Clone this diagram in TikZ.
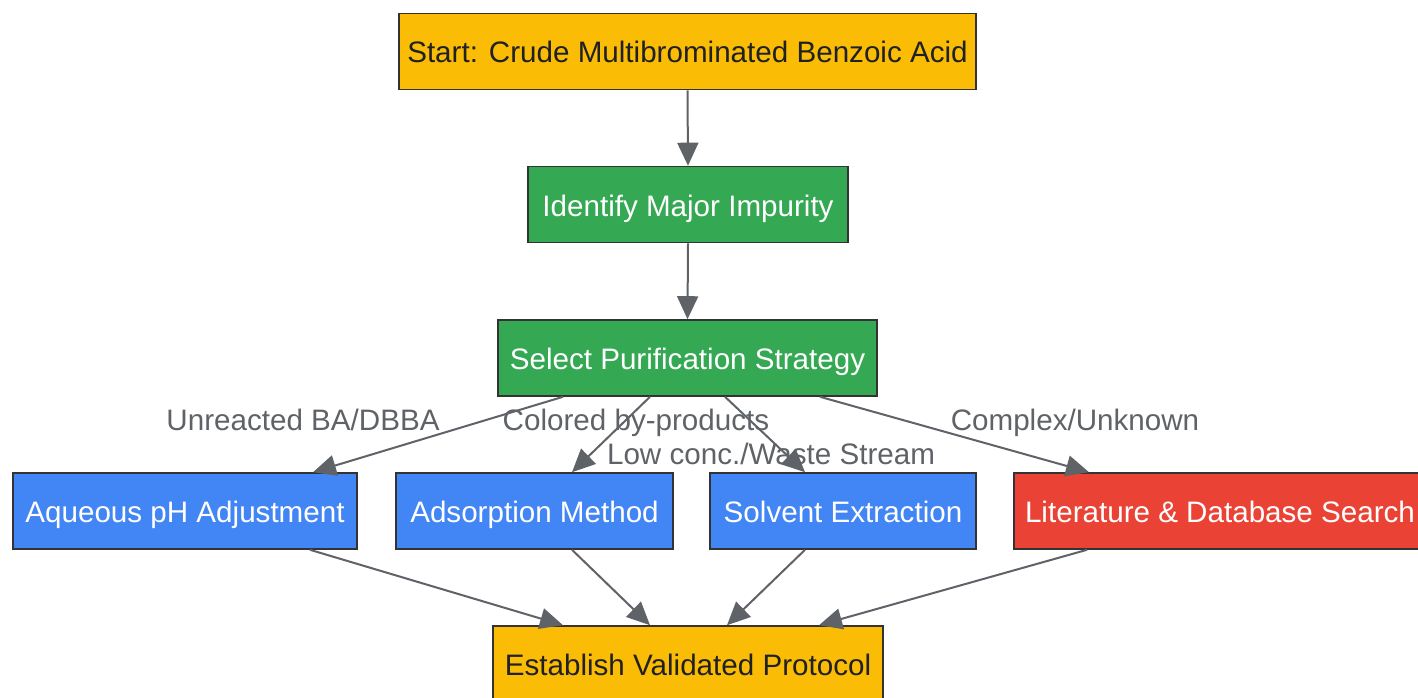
\documentclass[tikz,border=0pt]{standalone}
\usepackage{fontspec}
\setmainfont{Liberation Sans}
\usetikzlibrary{arrows.meta}
\definecolor{gyellow}{HTML}{FBBC05}
\definecolor{ggreen}{HTML}{34A853}
\definecolor{gblue}{HTML}{4285F4}
\definecolor{gred}{HTML}{EA4335}
\definecolor{darktxt}{HTML}{202124}
\definecolor{edgegray}{HTML}{5F6368}
\definecolor{bordergray}{HTML}{333333}
\begin{document}
\begin{tikzpicture}[x=1pt,y=-1pt,
  box/.style={draw=bordergray,line width=1.6pt,inner sep=0pt,minimum height=76pt,
    text height=29pt,text depth=6pt,
    font=\fontsize{29.6}{34}\selectfont},
  yel/.style={box,fill=gyellow,text=darktxt},
  grn/.style={box,fill=ggreen,text=white},
  blu/.style={box,fill=gblue,text=white},
  rd/.style={box,fill=gred,text=white},
  conn/.style={draw=edgegray,line width=2pt,-{Triangle[length=23pt,width=21pt]}},
  lbl/.style={text=edgegray,font=\fontsize{29.6}{34}\selectfont,inner sep=0pt,
    text height=28pt,text depth=6pt}]
\useasboundingbox (0,0) rectangle (1418,698);
\fill[white] (0,0) rectangle (1418,698);
\node[yel,minimum width=577pt] (start) at (687.5,51.5) {Start: Crude Multibrominated Benzoic Acid};
\node[grn,minimum width=320pt] (ident) at (688,204.5) {Identify Major Impurity};
\node[grn,minimum width=379pt] (sel) at (687.5,358) {Select Purification Strategy};
\node[blu,minimum width=344pt] (aq) at (185,511) {Aqueous pH Adjustment};
\node[blu,minimum width=277pt] (ads) at (534.5,511) {Adsorption Method};
\node[blu,minimum width=266pt] (solv) at (843,511) {Solvent Extraction};
\node[rd,minimum width=412pt] (lit) at (1220,511) {Literature \& Database Search};
\node[yel,minimum width=390pt] (fin) at (688,664) {Establish Validated Protocol};

\draw[conn] (start.south) -- (ident.north);
\draw[conn] (ident.south) -- (sel.north);
\draw[conn] ([xshift=-124.5pt]sel.south) -- ([xshift=128pt]aq.north);
\draw[conn] ([xshift=-37.5pt]sel.south) -- ([xshift=37.5pt]ads.north);
\draw[conn] ([xshift=37.5pt]sel.south) -- ([xshift=-38pt]solv.north);
\draw[conn] ([xshift=132.5pt]sel.south) -- ([xshift=-131pt]lit.north);
\draw[conn] ([xshift=125pt]aq.south) -- ([xshift=-125pt]fin.north);
\draw[conn] ([xshift=37.5pt]ads.south) -- ([xshift=-38pt]fin.north);
\draw[conn] ([xshift=-38pt]solv.south) -- ([xshift=39pt]fin.north);
\draw[conn] ([xshift=-133pt]lit.south) -- ([xshift=131pt]fin.north);

\node[lbl] (l1) at (303,419) {Unreacted BA/DBBA};
\node[lbl] (l2) at (636,419) {Colored by-products};
\node[lbl] (l3) at (771,453) {Low conc./Waste Stream};
\node[lbl] (l4) at (1075,419) {Complex/Unknown};
\end{tikzpicture}
\end{document}
